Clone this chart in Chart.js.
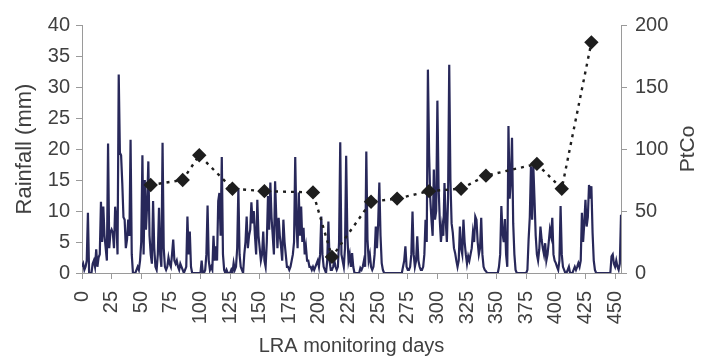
<!DOCTYPE html>
<html>
<head>
<meta charset="utf-8">
<title>Rainfall and PtCo</title>
<script src="https://cdn.jsdelivr.net/npm/chart.js@4.4.1/dist/chart.umd.min.js"></script>
<style>
  html, body { margin: 0; padding: 0; background: #fff; }
  canvas { display: block; }
</style>
</head>
<body>
<canvas id="rainChart" width="705" height="358"></canvas>
<script>
// daily rainfall (mm), one value per monitoring day starting at day 0
const rainfall = [
  1, 1.5, 0.5, 1, 2, 9.7, 0, 0, 0, 1.5, 2, 1, 3.8, 1, 2.5, 3, 11.5, 5, 10.7, 6, 4, 2, 20.9, 4, 6.5,
  7, 6.5, 4, 10.7, 8.6, 3, 32, 19.4, 19, 14.5, 9, 8.6, 4, 5.4, 8.6, 6, 21.5, 3, 0, 0, 0, 0.5, 1, 0.5, 2,
  5, 19, 3, 15, 7, 11, 18, 6, 3, 1.5, 11.6, 4, 1, 0.5, 3, 10.5, 3, 1, 21, 4, 1, 0.5, 1, 2.5, 1.5,
  1, 3, 5.4, 2, 1.5, 2, 1, 0.5, 1.5, 1, 0.5, 0, 0.5, 1, 9.1, 3, 6.7, 1, 0, 0, 0, 0, 0, 0, 0,
  0, 2, 0, 0, 0.5, 3, 10.9, 2, 0.5, 1, 0.5, 6, 2, 4.3, 2, 11.6, 12.9, 6, 18.7, 3, 0.5, 0, 0.5, 0, 0,
  0, 0.5, 0, 1.6, 0.5, 1, 4, 13.7, 3, 1, 0.5, 0, 3, 5, 9.1, 4, 6, 7, 11.4, 8, 10, 6, 3, 11.8, 6,
  4, 2, 3, 6.7, 2, 1, 5, 12.4, 7, 14.6, 9, 6, 3, 14.8, 9, 4, 8.9, 6, 4.3, 2, 8.6, 5, 3, 1, 1,
  0.5, 1, 2, 3, 5, 18.7, 8, 4, 13, 6, 10.7, 5, 7.3, 3, 4.3, 2, 2, 1, 1, 0.5, 1, 0.5, 1, 1.5, 2,
  1, 3, 9.1, 3, 1, 0.5, 0, 2, 8.3, 2, 0.5, 0.5, 1, 2, 1, 0.5, 1, 5, 21.1, 3, 2, 1, 4, 18.9, 6,
  2, 3, 1, 3.2, 1, 0, 0, 0, 0, 0, 0.8, 0.5, 1, 2, 1, 19.6, 5.4, 2, 3, 1, 0.5, 1, 3, 7.5, 4,
  8, 14.6, 6, 1.6, 0.5, 0, 0, 0, 0, 0, 0, 0, 0, 0, 0, 0, 0, 0, 0, 0, 0, 1, 2, 4.3, 1,
  0.5, 0.5, 1, 3, 9.9, 3, 1, 2, 5.9, 2, 1, 0.5, 0.5, 1, 3, 8.6, 5, 32.8, 19.4, 12, 8.6, 6, 16.7, 8.6, 10,
  27.8, 14, 8.6, 5, 7.5, 6, 14.5, 8.6, 5, 12, 33.6, 15, 8, 6.5, 4, 3.2, 2, 1, 2, 7.5, 4, 3, 8.6, 5, 3,
  1.5, 2.7, 2, 3, 4, 6.5, 5, 9.1, 8.6, 5, 3, 4, 8.9, 3, 1, 0.5, 0.3, 0, 0, 0, 0, 0, 0, 0, 0,
  0, 0, 1, 3, 10.8, 6.5, 5, 8.7, 3, 1, 23.7, 12, 15, 21.8, 8, 3, 0.5, 0, 0, 0, 0, 0, 0, 0, 0,
  0, 0.5, 5.4, 9, 17.2, 8.6, 17.2, 11.8, 6, 3, 2, 3.8, 7.5, 5.4, 4, 3, 4.8, 2, 3, 5, 7, 6, 8.9, 3, 2,
  1.6, 1, 0.5, 2, 10.8, 3, 1, 0.5, 0, 0, 0.5, 1, 0, 0, 0, 0.5, 1, 0.5, 1, 1.6, 1, 2, 9.7, 5, 8,
  11.8, 7.5, 9, 14.2, 12, 14, 6.5, 2, 0.5, 0, 0, 0, 0, 0, 0, 0, 0, 0, 0, 0, 0, 0, 2.7, 3, 1.5,
  1, 2, 1, 0.5, 1.5, 9.4
];
const monitoringDays = rainfall.map((_, i) => i);

// PtCo colour samples
const ptcoDays = [58, 85, 99, 127, 154, 195, 211, 244, 266, 293, 320, 341, 384, 405, 430];
const ptcoValues = [71, 75, 95, 68, 66, 65, 13, 57.5, 60, 66, 68, 78.5, 88, 68, 186];

const dayTicks = [0, 25, 50, 75, 100, 125, 150, 175, 200, 225, 250, 275, 300, 325, 350, 375, 400, 425, 450];

const axisGray = '#9a9a9a';
const textGray = '#404040';
const fontFamily = '"Liberation Sans", Arial, sans-serif';

Chart.defaults.font.family = fontFamily;
Chart.defaults.font.size = 20;
Chart.defaults.color = textGray;

// secondary axis title, turned to read bottom-to-top like the left one
const rightAxisTitle = {
    id: 'rightAxisTitle',
    afterDraw(chart) {
        const { ctx, chartArea } = chart;
        const scale = chart.scales.y1;
        ctx.save();
        ctx.translate(scale.right - 17, (chartArea.top + chartArea.bottom) / 2);
        ctx.rotate(-Math.PI / 2);
        ctx.font = '21px ' + fontFamily;
        ctx.fillStyle = textGray;
        ctx.textAlign = 'center';
        ctx.textBaseline = 'middle';
        ctx.fillText('PtCo', 0, 0);
        ctx.restore();
    }
};

new Chart(document.getElementById('rainChart'), {
    type: 'line',
    data: {
        datasets: [
            {
                label: 'PtCo',
                data: ptcoDays.map((d, i) => ({ x: d, y: ptcoValues[i] })),
                yAxisID: 'y1',
                order: 0,
                borderColor: '#1e1e1e',
                borderWidth: 2.4,
                borderDash: [3, 5],
                pointStyle: 'rectRot',
                pointRadius: 5.5,
                pointBackgroundColor: '#1e1e1e',
                pointBorderColor: '#1e1e1e',
                tension: 0
            },
            {
                label: 'Rainfall',
                data: monitoringDays.map((d, i) => ({ x: d, y: rainfall[i] })),
                yAxisID: 'y',
                order: 1,
                borderColor: '#28285a',
                borderWidth: 2.2,
                pointRadius: 0,
                tension: 0
            }
        ]
    },
    options: {
        responsive: false,
        animation: false,
        devicePixelRatio: 1,
        layout: {
            padding: { top: 25, left: 0, right: 0, bottom: 0 }
        },
        plugins: {
            legend: { display: false },
            tooltip: { enabled: false }
        },
        scales: {
            x: {
                type: 'linear',
                min: 0,
                max: 455,
                afterBuildTicks: scale => {
                    scale.ticks = dayTicks.map(v => ({ value: v }));
                },
                afterFit: scale => { scale.height = 85; },
                ticks: {
                    autoSkip: false,
                    minRotation: 90,
                    maxRotation: 90,
                    padding: 12
                },
                grid: { drawOnChartArea: false, tickLength: 6, color: axisGray },
                border: { color: axisGray },
                title: {
                    display: true,
                    text: 'LRA monitoring days',
                    padding: { top: 0, bottom: 0 }
                }
            },
            y: {
                position: 'left',
                min: 0,
                max: 40,
                ticks: { stepSize: 5, padding: 6 },
                afterFit: scale => { scale.width = 82; },
                grid: { drawOnChartArea: false, tickLength: 6, color: axisGray },
                border: { color: axisGray },
                title: {
                    display: true,
                    text: 'Rainfall (mm)',
                    font: { size: 22 },
                    padding: { top: 12, bottom: 0 }
                }
            },
            y1: {
                position: 'right',
                min: 0,
                max: 200,
                ticks: { stepSize: 50, padding: 8 },
                afterFit: scale => { scale.width = 84; },
                grid: { drawOnChartArea: false, tickLength: 6, color: axisGray },
                border: { color: axisGray }
            }
        }
    },
    plugins: [rightAxisTitle]
});
</script>
</body>
</html>
